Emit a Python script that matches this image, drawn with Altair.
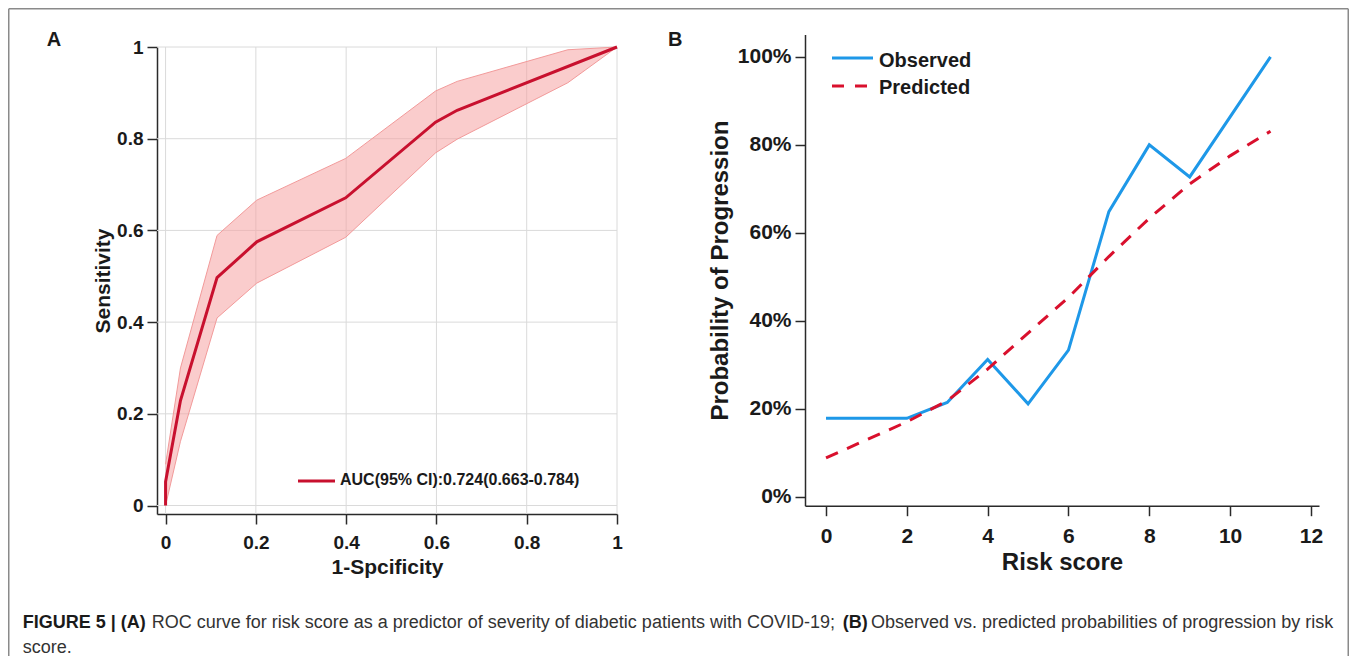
import altair as alt
import pandas as pd

# ---------------- data ----------------
# Panel A: ROC curve
roc_fpr = [0.0, 0.0, 0.033, 0.114, 0.202, 0.399, 0.598, 0.646, 1.0]
roc_tpr = [0.0, 0.052, 0.229, 0.497, 0.575, 0.671, 0.836, 0.862, 1.0]
ci_fpr = [0.0, 0.033, 0.114, 0.202, 0.399, 0.598, 0.646, 0.891, 1.0]
ci_upper = [0.09, 0.30, 0.589, 0.666, 0.757, 0.904, 0.925, 0.994, 1.0]
ci_lower = [0.0, 0.14, 0.409, 0.485, 0.585, 0.769, 0.799, 0.922, 1.0]
roc_ticks = [0, 0.2, 0.4, 0.6, 0.8, 1]
auc_label = "AUC(95% CI):0.724(0.663-0.784)"

# Panel B: observed vs predicted
obs_score = [0, 2, 3, 4, 5, 6, 7, 8, 9, 11]
obs_prob = [0.178, 0.178, 0.214, 0.312, 0.211, 0.333, 0.648, 0.800, 0.727, 1.0]
pred_score = [0, 1, 2, 3, 4, 5, 6, 7, 8, 9, 10, 11]
pred_prob = [0.088, 0.129, 0.170, 0.218, 0.290, 0.372, 0.453, 0.546, 0.633, 0.711, 0.775, 0.831]
score_ticks = [0, 2, 4, 6, 8, 10, 12]
prob_ticks = [0, 0.2, 0.4, 0.6, 0.8, 1.0]

caption_bold_1 = "FIGURE 5 | (A)"
caption_text_1 = "ROC curve for risk score as a predictor of severity of diabetic patients with COVID-19;"
caption_bold_2 = "(B)"
caption_text_2 = "Observed vs. predicted probabilities of progression by risk"
caption_line_2 = "score."

# ---------------- layout ----------------
W, H = 1341, 648
FONT = "Liberation Sans"
INK = "#1a1a1a"
AX = "#2a2a2a"

A_XMIN, A_YMIN = -0.019, -0.0185

roc_df = pd.DataFrame({"fpr": roc_fpr, "tpr": roc_tpr, "i": list(range(len(roc_fpr)))})
ci_df = pd.DataFrame({"fpr": ci_fpr, "upper": ci_upper, "lower": ci_lower})
grid_df = pd.DataFrame({"t": roc_ticks})
obs_df = pd.DataFrame({"score": obs_score, "prob": obs_prob})
pred_df = pd.DataFrame({"score": pred_score, "prob": pred_prob})
one = pd.DataFrame({"k": [0]})

common_axis = dict(
    domainColor=AX, domainWidth=1.5, tickColor=AX, tickWidth=1.5, tickSize=10,
    labelFont=FONT, labelFontWeight="bold", labelColor=INK, labelFlush=False,
    labelOverlap=False, labelBound=False, titleFont=FONT, titleFontWeight="bold",
    titleColor=INK, grid=False,
)

# Panel A scales / axes
ax_x = alt.Scale(domain=[A_XMIN, 1], range=[149, 609], nice=False, zero=False)
ax_y = alt.Scale(domain=[A_YMIN, 1], range=[506, 39], nice=False, zero=False)
axA_x = alt.Axis(values=roc_ticks, format="~g", orient="bottom", offset=506 - H,
                 title="1-Spcificity", labelFontSize=19, labelPadding=9,
                 titleFontSize=21, titlePadding=4, **common_axis)
axA_y = alt.Axis(values=roc_ticks, format="~g", orient="left", offset=-149,
                 title="Sensitivity", labelFontSize=19, labelPadding=4,
                 titleFontSize=21, titlePadding=3, **common_axis)

GRID = "#dadada"
grid_v = alt.Chart(grid_df).mark_rule(color=GRID, strokeWidth=1).encode(
    x=alt.X("t:Q", scale=ax_x, axis=axA_x),
    y=alt.YDatum(A_YMIN, scale=ax_y, axis=axA_y),
    y2=alt.Y2Datum(1),
)
grid_h = alt.Chart(grid_df).mark_rule(color=GRID, strokeWidth=1).encode(
    y=alt.Y("t:Q", scale=ax_y, axis=axA_y),
    x=alt.XDatum(A_XMIN, scale=ax_x, axis=axA_x),
    x2=alt.X2Datum(1),
)
band = alt.Chart(ci_df).mark_area(color="#f5a3a3", opacity=0.55).encode(
    x=alt.X("fpr:Q", scale=ax_x, axis=axA_x),
    y=alt.Y("upper:Q", scale=ax_y, axis=axA_y),
    y2="lower:Q",
)
band_up = alt.Chart(ci_df).mark_line(color="#f29a9a", strokeWidth=1).encode(
    x=alt.X("fpr:Q", scale=ax_x, axis=axA_x),
    y=alt.Y("upper:Q", scale=ax_y, axis=axA_y),
)
band_lo = alt.Chart(ci_df).mark_line(color="#f29a9a", strokeWidth=1).encode(
    x=alt.X("fpr:Q", scale=ax_x, axis=axA_x),
    y=alt.Y("lower:Q", scale=ax_y, axis=axA_y),
)
roc_line = alt.Chart(roc_df).mark_line(color="#c8102e", strokeWidth=3).encode(
    x=alt.X("fpr:Q", scale=ax_x, axis=axA_x),
    y=alt.Y("tpr:Q", scale=ax_y, axis=axA_y),
    order="i:Q",
)
legA_line = alt.Chart(one).mark_rule(color="#c8102e", strokeWidth=3).encode(
    x=alt.value(290), x2=alt.value(327), y=alt.value(473))
legA_text = alt.Chart(one).mark_text(font=FONT, fontSize=16, fontWeight="bold", color=INK,
                                     align="left", baseline="alphabetic").encode(
    x=alt.value(332), y=alt.value(477), text=alt.value(auc_label))
panelA = alt.layer(grid_v, grid_h, band, band_up, band_lo, roc_line, legA_line, legA_text)

# Panel B scales / axes
bx = alt.Scale(domain=[-0.52, 12.2], range=[797, 1311], nice=False, zero=False)
by = alt.Scale(domain=[-0.0207, 1.051], range=[497.7, 26.5], nice=False, zero=False)
axB_x = alt.Axis(values=score_ticks, format="d", orient="bottom", offset=497.7 - H,
                 title="Risk score", labelFontSize=21, labelPadding=10,
                 titleFontSize=24, titlePadding=4, **common_axis)
axB_y = alt.Axis(values=prob_ticks, format=".0%", orient="left", offset=-797,
                 title="Probability of Progression", labelFontSize=21,
                 labelPadding=4, titleFontSize=24, titlePadding=5, **common_axis)

obs_line = alt.Chart(obs_df).mark_line(color="#1e98e8", strokeWidth=3).encode(
    x=alt.X("score:Q", scale=bx, axis=axB_x),
    y=alt.Y("prob:Q", scale=by, axis=axB_y),
)
pred_line = alt.Chart(pred_df).mark_line(color="#d9102d", strokeWidth=3,
                                         strokeDash=[13, 10]).encode(
    x=alt.X("score:Q", scale=bx, axis=axB_x),
    y=alt.Y("prob:Q", scale=by, axis=axB_y),
)
legB_obs = alt.Chart(one).mark_rule(color="#1e98e8", strokeWidth=3).encode(
    x=alt.value(824), x2=alt.value(865), y=alt.value(50))
legB_pred = alt.Chart(one).mark_rule(color="#d9102d", strokeWidth=3,
                                     strokeDash=[12, 11]).encode(
    x=alt.value(824), x2=alt.value(860), y=alt.value(78))
legB_t1 = alt.Chart(one).mark_text(font=FONT, fontSize=20, fontWeight="bold", color=INK,
                                   align="left", baseline="alphabetic").encode(
    x=alt.value(871), y=alt.value(58.7), text=alt.value("Observed"))
legB_t2 = alt.Chart(one).mark_text(font=FONT, fontSize=20, fontWeight="bold", color=INK,
                                   align="left", baseline="alphabetic").encode(
    x=alt.value(871), y=alt.value(86), text=alt.value("Predicted"))
panelB = alt.layer(obs_line, pred_line, legB_obs, legB_pred, legB_t1, legB_t2)


# ---------------- annotations ----------------
def label(txt, x, y, size, weight, color):
    return alt.Chart(one).mark_text(font=FONT, fontSize=size, fontWeight=weight, color=color,
                                    align="left", baseline="alphabetic").encode(
        x=alt.value(x), y=alt.value(y), text=alt.value(txt))


lab_A = label("A", 38.7, 38, 20, "bold", INK)
lab_B = label("B", 660, 38, 20, "bold", INK)
cap1 = label(caption_bold_1, 14.7, 619.7, 18, "bold", INK)
cap2 = label(caption_text_1, 143.7, 619.7, 18, "normal", "#333333")
cap3 = label(caption_bold_2, 834.7, 619.7, 18, "bold", INK)
cap4 = label(caption_text_2, 863, 619.7, 18, "normal", "#333333")
cap5 = label(caption_line_2, 14.7, 645.3, 18, "normal", "#333333")

BORDER = "#8a8a8a"
b_top = alt.Chart(one).mark_rule(color=BORDER, strokeWidth=1.5).encode(
    x=alt.value(0.75), x2=alt.value(W - 0.75), y=alt.value(0.75))
b_left = alt.Chart(one).mark_rule(color=BORDER, strokeWidth=1.5).encode(
    x=alt.value(0.75), y=alt.value(0.75), y2=alt.value(H))
b_right = alt.Chart(one).mark_rule(color=BORDER, strokeWidth=1.5).encode(
    x=alt.value(W - 0.75), y=alt.value(0.75), y2=alt.value(H))

chart = alt.layer(
    panelA, panelB, lab_A, lab_B, cap1, cap2, cap3, cap4, cap5, b_top, b_left, b_right
).resolve_scale(
    x="independent", y="independent"
).resolve_axis(
    x="independent", y="independent"
).properties(
    width=W, height=H, padding=0, autosize=alt.AutoSizeParams(type="none"),
    background="white"
).configure_view(stroke=None)

chart.save("out.html", embed_options={"renderer": "svg", "actions": False})
